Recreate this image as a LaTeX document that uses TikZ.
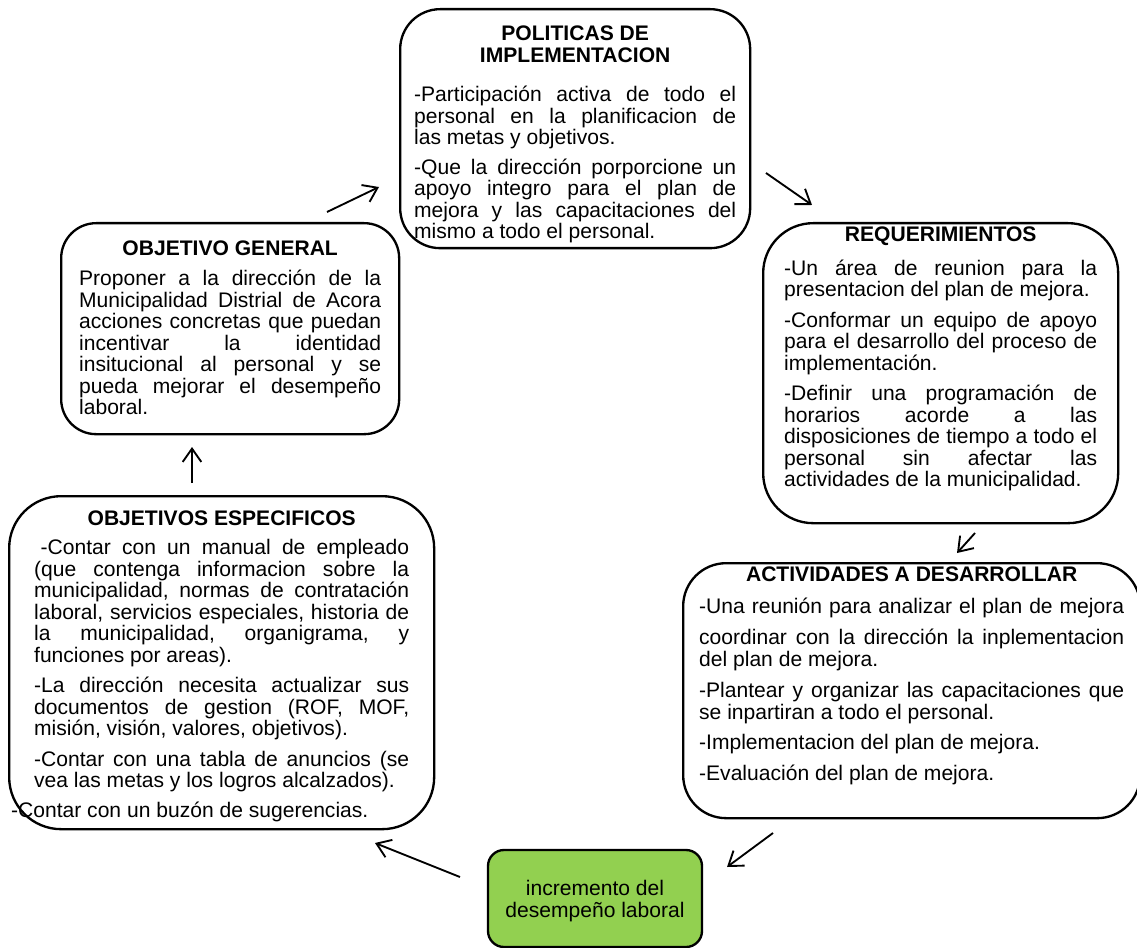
\documentclass[tikz,border=0pt]{standalone}
\usepackage{fontspec}
\setmainfont{Liberation Sans}
\usetikzlibrary{arrows.meta}
\definecolor{boxgreen}{HTML}{92D050}
\frenchspacing
\newcommand\pxl[1]{\dimexpr #1pt*3/4\relax}
\newcommand\jln[1]{\hbox to\hsize{\spaceskip=\fontdimen2\font plus 1fil\relax #1}}
\newcommand\lln[1]{\hbox{#1}}
\newcommand\ttl[1]{\hbox to\hsize{\hfil\bfseries #1\hfil}}
\newcommand\pgap{\vskip\pxl{9}}
\begin{document}
\begin{tikzpicture}[x=0.75pt,y=-0.75pt,
  rbox/.style={draw=black, line width=1.75pt, inner sep=0pt, anchor=north west, fill=white,
    font=\fontsize{15.8}{16.1}\selectfont},
  gbox/.style={draw=black, line width=1.75pt, fill=boxgreen, align=center, inner sep=0pt,
    font=\fontsize{15.8}{16.5}\selectfont},
  arr/.style={line width=1.4pt, -{Straight Barb[length=10pt,width=14pt]}}]
\useasboundingbox (0,0) rectangle (1137,948);

% POLITICAS DE IMPLEMENTACION
\node[rbox, minimum width={350*0.75pt}, rounded corners={40*0.75pt}] (pol) at (399,8)
{\vbox to \pxl{239}{\hsize=\pxl{322}\lineskiplimit=-50pt
\kern\pxl{17}
\ttl{POLITICAS DE}
\ttl{IMPLEMENTACION}
\vskip\pxl{18}
\jln{-Participación activa de todo el}
\jln{personal en la planificacion de}
\lln{las metas y objetivos.}
\vskip\pxl{8}
\jln{-Que la dirección porporcione un}
\jln{apoyo integro para el plan de}
\jln{mejora y las capacitaciones del}
\lln{mismo a todo el personal.}
\vfil}};

% OBJETIVO GENERAL
\node[rbox, minimum width={338*0.75pt}, rounded corners={35*0.75pt}] (og) at (60,222)
{\vbox to \pxl{211}{\hsize=\pxl{302}\lineskiplimit=-50pt
\kern\pxl{17.5}
\ttl{OBJETIVO GENERAL}
\vskip\pxl{9}
\jln{Proponer a la dirección de la}
\jln{Municipalidad Distrial de Acora}
\jln{acciones concretas que puedan}
\jln{incentivar la identidad}
\jln{insitucional al personal y se}
\jln{pueda mejorar el desempeño}
\lln{laboral.}
\vfil}};

% REQUERIMIENTOS
\node[rbox, minimum width={355*0.75pt}, rounded corners={50*0.75pt}] (req) at (762,222)
{\vbox to \pxl{300}{\hsize=\pxl{313}\lineskiplimit=-50pt
\kern\pxl{4}
\ttl{REQUERIMIENTOS}
\vskip\pxl{12}
\jln{-Un área de reunion para la}
\lln{presentacion del plan de mejora.}
\pgap
\jln{-Conformar un equipo de apoyo}
\jln{para el desarrollo del proceso de}
\lln{implementación.}
\pgap
\jln{-Definir una programación de}
\jln{horarios acorde a las}
\jln{disposiciones de tiempo a todo el}
\jln{personal sin afectar las}
\lln{actividades de la municipalidad.}
\vfil}};

% OBJETIVOS ESPECIFICOS
\node[rbox, minimum width={425*0.75pt}, rounded corners={52*0.75pt}] (esp) at (8,495)
{\vbox to \pxl{333}{\hsize=\pxl{375}\lineskiplimit=-50pt
\kern\pxl{14.5}
\ttl{OBJETIVOS ESPECIFICOS}
\vskip\pxl{8}
\jln{\kern\pxl{6.5}-Contar con un manual de empleado}
\jln{(que contenga informacion sobre la}
\jln{municipalidad, normas de contratación}
\jln{laboral, servicios especiales, historia de}
\jln{la municipalidad, organigrama, y}
\lln{funciones por areas).}
\pgap
\jln{-La dirección necesita actualizar sus}
\jln{documentos de gestion (ROF, MOF,}
\lln{misión, visión, valores, objetivos).}
\pgap
\jln{-Contar con una tabla de anuncios (se}
\lln{vea las metas y los logros alcalzados).}
\pgap
\lln{\kern-\pxl{23}-Contar con un buzón de sugerencias.}
\vfil}};

% ACTIVIDADES A DESARROLLAR
\node[rbox, minimum width={457*0.75pt}, rounded corners={43*0.75pt}] (act) at (682,562)
{\vbox to \pxl{255}{\hsize=\pxl{425}\lineskiplimit=-50pt
\kern\pxl{4}
\ttl{ACTIVIDADES A DESARROLLAR}
\vskip\pxl{10}
\jln{-Una reunión para analizar el plan de mejora}
\vskip\pxl{10}
\jln{coordinar con la dirección la inplementacion}
\lln{del plan de mejora.}
\vskip\pxl{10}
\jln{-Plantear y organizar las capacitaciones que}
\lln{se inpartiran a todo el personal.}
\pgap
\lln{-Implementacion del plan de mejora.}
\pgap
\lln{-Evaluación del plan de mejora.}
\vfil}};

% incremento del desempeño laboral
\node[gbox, minimum width={214*0.75pt}, minimum height={97*0.75pt}, rounded corners={16*0.75pt}]
  (inc) at (595,898.5) {\rule{0pt}{15.3pt}incremento del\\desempeño laboral};

% arrows
\coordinate (a1s) at (327,212); \coordinate (a1e) at (379,187);
\coordinate (a2s) at (766,173); \coordinate (a2e) at (812,205);
\coordinate (a3s) at (975,533); \coordinate (a3e) at (957,553);
\coordinate (a4s) at (773,833); \coordinate (a4e) at (727,867);
\coordinate (a5s) at (460,877); \coordinate (a5e) at (375,843);
\coordinate (a6s) at (192,483); \coordinate (a6e) at (192,447);
\draw[arr] (a1s) -- (a1e);
\draw[arr] (a2s) -- (a2e);
\draw[arr] (a3s) -- (a3e);
\draw[arr] (a4s) -- (a4e);
\draw[arr] (a5s) -- (a5e);
\draw[arr] (a6s) -- (a6e);
\end{tikzpicture}
\end{document}
